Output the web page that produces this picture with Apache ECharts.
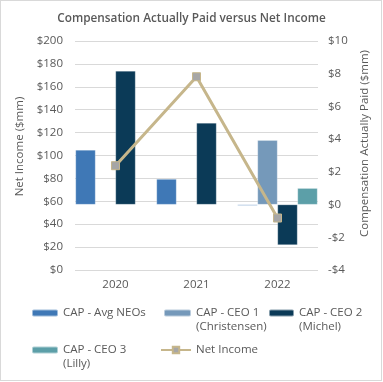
<!DOCTYPE html>
<html>
<head>
<meta charset="utf-8">
<script src="https://cdn.jsdelivr.net/npm/echarts@6/dist/echarts.min.js"></script>
<style>
html,body{margin:0;padding:0;background:#fff;}
#wrap{position:absolute;left:0;top:0;width:382px;height:381px;box-sizing:border-box;border:1px solid #D9D9D9;}
#chart{position:absolute;left:0;top:0;width:383px;height:382px;}
</style>
</head>
<body>
<div id="wrap"></div>
<div id="chart"></div>
<script>
const years = ['2020', '2021', '2022'];
const capAvgNeos = [3.34, 1.56, -0.06];
const capCeo1 = [null, null, 3.93];
const capCeo2 = [8.17, 4.99, -2.47];
const capCeo3 = [null, null, 1.0];
const netIncome = [91.1, 168.8, 45.4];
const leftTicks = {min: 0, max: 200, interval: 20};
const rightTicks = {min: -4, max: 10, interval: 2};

const names = ['CAP - Avg NEOs', 'CAP - CEO 1 (Christensen)', 'CAP - CEO 2 (Michel)', 'CAP - CEO 3 (Lilly)', 'Net Income'];
const legendText = {
  'CAP - Avg NEOs': 'CAP - Avg NEOs',
  'CAP - CEO 1 (Christensen)': ' \nCAP - CEO 1\n(Christensen)',
  'CAP - CEO 2 (Michel)': ' \nCAP - CEO 2\n(Michel)',
  'CAP - CEO 3 (Lilly)': ' \nCAP - CEO 3\n(Lilly)',
  'Net Income': 'Net Income'
};
const FONT = '"Open Sans", sans-serif';
const GREY = '#595959';

function mkLegend(name, left, iconY, w, multi) {
  const lh = 14;
  const base = {
    data: [name], left: left, orient: 'horizontal', padding: 0,
    itemWidth: w, itemHeight: 7, itemGap: 0,
    formatter: (n) => legendText[n],
    textStyle: {fontFamily: FONT, fontSize: 11.5, color: GREY, lineHeight: lh}
  };
  base.top = multi ? iconY - 1.5 * lh : iconY - lh / 2;
  return base;
}

const chart = echarts.init(document.getElementById('chart'), null, {renderer: 'canvas'});
chart.setOption({
  animation: false,
  title: {
    text: 'Compensation Actually Paid versus Net Income',
    left: 'center', top: 8,
    textStyle: {fontFamily: FONT, fontSize: 11.8, fontWeight: 600, color: GREY}
  },
  grid: {left: 75, right: 65, top: 41, bottom: 112, containLabel: false},
  legend: [
    mkLegend(names[0], 31, 313, 26, false),
    mkLegend(names[1], 163, 313, 27, true),
    mkLegend(names[2], 268, 313, 25, true),
    mkLegend(names[3], 31, 350, 26, true),
    Object.assign(mkLegend(names[4], 160, 350, 30, false), {itemHeight: 8})
  ],
  xAxis: {
    type: 'category', data: years,
    axisLine: {show: false}, axisTick: {show: false},
    axisLabel: {fontFamily: FONT, fontSize: 11.5, color: GREY, margin: 9}
  },
  yAxis: [
    {
      type: 'value', min: leftTicks.min, max: leftTicks.max, interval: leftTicks.interval,
      name: '\u00a0\u00a0\u00a0\u00a0\u00a0\u00a0Net Income ($mm)', nameLocation: 'middle', nameGap: 47, nameRotate: 90,
      nameTextStyle: {fontFamily: FONT, fontSize: 11.5, color: GREY},
      axisLine: {show: false}, axisTick: {show: false},
      axisLabel: {fontFamily: FONT, fontSize: 11.5, color: GREY, margin: 12, formatter: v => '$' + v},
      splitLine: {lineStyle: {color: '#D9D9D9', width: 1}}
    },
    {
      type: 'value', min: rightTicks.min, max: rightTicks.max, interval: rightTicks.interval,
      name: '\u00a0\u00a0\u00a0\u00a0\u00a0\u00a0\u00a0\u00a0Compensation Actually Paid ($mm)', nameLocation: 'middle', nameGap: 35, nameRotate: 90,
      nameTextStyle: {fontFamily: FONT, fontSize: 11.5, color: GREY},
      axisLine: {show: false}, axisTick: {show: false},
      axisLabel: {fontFamily: FONT, fontSize: 11.5, color: GREY, margin: 10, formatter: v => (v < 0 ? '-$' + (-v) : '$' + v)},
      splitLine: {show: false}
    }
  ],
  series: [
    {name: names[0], type: 'bar', yAxisIndex: 1, data: capAvgNeos, barWidth: 20, barGap: '0%',
     itemStyle: {color: '#3F78B6', borderColor: 'rgba(255,255,255,0.5)', borderWidth: 0.5}},
    {name: names[1], type: 'bar', yAxisIndex: 1, data: capCeo1, barWidth: 20, barGap: '0%',
     itemStyle: {color: '#7599BA', borderColor: 'rgba(255,255,255,0.5)', borderWidth: 0.5}},
    {name: names[2], type: 'bar', yAxisIndex: 1, data: capCeo2, barWidth: 20, barGap: '0%',
     itemStyle: {color: '#0B3A57', borderColor: 'rgba(255,255,255,0.5)', borderWidth: 0.5}},
    {name: names[3], type: 'bar', yAxisIndex: 1, data: capCeo3, barWidth: 20, barGap: '0%',
     itemStyle: {color: '#5C9FA8', borderColor: 'rgba(255,255,255,0.5)', borderWidth: 0.5}},
    {name: names[4], type: 'line', yAxisIndex: 0, data: netIncome,
     symbol: 'rect', symbolSize: 8, z: 5,
     lineStyle: {color: '#C6B68B', width: 3},
     itemStyle: {color: '#A6A6A6', borderColor: '#C6B68B', borderWidth: 1}}
  ]
});
</script>
</body>
</html>
